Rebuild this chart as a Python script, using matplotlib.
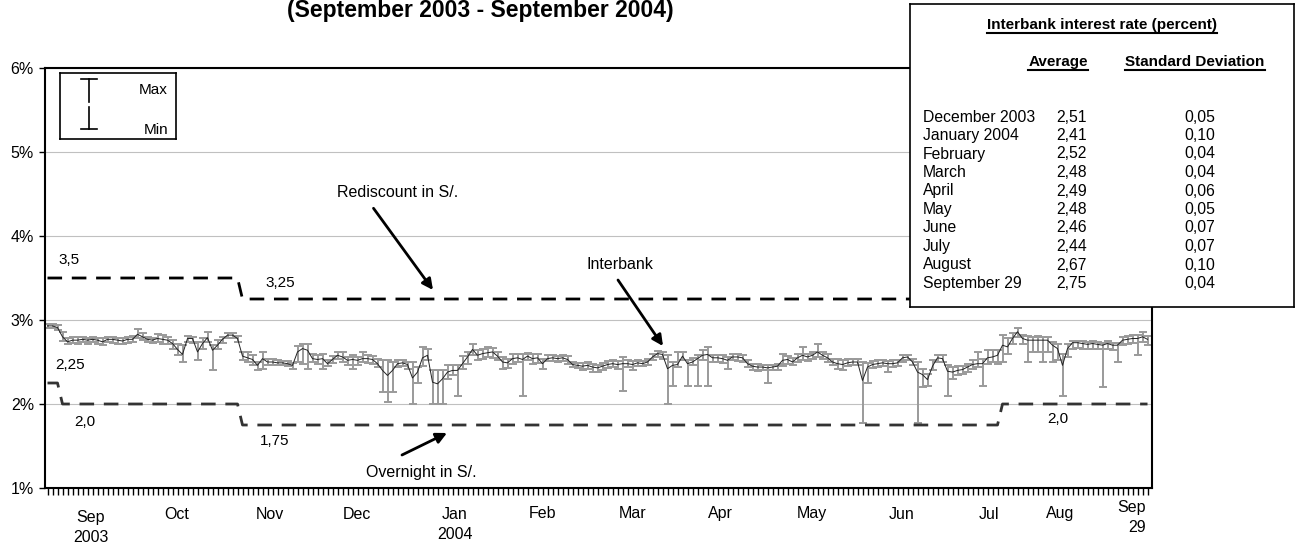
import numpy as np
import matplotlib.pyplot as plt

plt.rcParams['font.family'] = ['Liberation Sans', 'DejaVu Sans']
plt.rcParams['lines.scale_dashes'] = False

# interbank rate per trading day (percent): average, max and min
avg = [2.93, 2.93, 2.91, 2.80, 2.74, 2.76, 2.76, 2.77, 2.76, 2.77,
       2.76, 2.74, 2.77, 2.77, 2.76, 2.75, 2.77, 2.77, 2.83, 2.80,
       2.77, 2.76, 2.78, 2.77, 2.76, 2.72, 2.65, 2.59, 2.78, 2.78,
       2.62, 2.72, 2.79, 2.64, 2.70, 2.77, 2.82, 2.82, 2.78, 2.57,
       2.55, 2.53, 2.46, 2.54, 2.50, 2.50, 2.49, 2.49, 2.48, 2.46,
       2.62, 2.66, 2.64, 2.54, 2.53, 2.54, 2.48, 2.53, 2.58, 2.56,
       2.52, 2.53, 2.52, 2.54, 2.54, 2.53, 2.48, 2.40, 2.34, 2.40,
       2.48, 2.49, 2.47, 2.31, 2.38, 2.55, 2.58, 2.26, 2.24, 2.30,
       2.38, 2.40, 2.40, 2.48, 2.56, 2.65, 2.58, 2.60, 2.61, 2.62,
       2.57, 2.50, 2.49, 2.54, 2.55, 2.53, 2.57, 2.54, 2.55, 2.48,
       2.54, 2.55, 2.54, 2.55, 2.53, 2.47, 2.46, 2.45, 2.46, 2.44,
       2.43, 2.45, 2.47, 2.48, 2.47, 2.48, 2.48, 2.47, 2.49, 2.48,
       2.50, 2.56, 2.60, 2.59, 2.42, 2.46, 2.47, 2.57, 2.48, 2.50,
       2.54, 2.58, 2.59, 2.55, 2.55, 2.54, 2.52, 2.56, 2.56, 2.55,
       2.48, 2.45, 2.44, 2.44, 2.43, 2.44, 2.45, 2.52, 2.53, 2.50,
       2.55, 2.58, 2.56, 2.58, 2.62, 2.58, 2.55, 2.50, 2.48, 2.47,
       2.49, 2.50, 2.50, 2.28, 2.44, 2.47, 2.48, 2.49, 2.48, 2.48,
       2.49, 2.55, 2.56, 2.50, 2.38, 2.35, 2.29, 2.45, 2.55, 2.54,
       2.39, 2.38, 2.40, 2.41, 2.44, 2.47, 2.48, 2.48, 2.55, 2.56,
       2.58, 2.70, 2.68, 2.78, 2.86, 2.78, 2.76, 2.76, 2.76, 2.76,
       2.76, 2.70, 2.66, 2.46, 2.66, 2.73, 2.73, 2.72, 2.71, 2.72,
       2.71, 2.70, 2.72, 2.70, 2.70, 2.76, 2.77, 2.78, 2.78, 2.80, 2.77]
hi = [2.95, 2.95, 2.94, 2.86, 2.79, 2.80, 2.80, 2.80, 2.79, 2.80,
      2.79, 2.78, 2.80, 2.80, 2.79, 2.79, 2.80, 2.81, 2.89, 2.84,
      2.80, 2.79, 2.83, 2.82, 2.80, 2.76, 2.72, 2.70, 2.81, 2.80,
      2.74, 2.78, 2.86, 2.70, 2.76, 2.80, 2.85, 2.84, 2.81, 2.62,
      2.62, 2.58, 2.50, 2.62, 2.54, 2.54, 2.52, 2.51, 2.51, 2.49,
      2.69, 2.71, 2.71, 2.60, 2.58, 2.60, 2.52, 2.57, 2.62, 2.62,
      2.56, 2.58, 2.56, 2.62, 2.58, 2.57, 2.54, 2.52, 2.52, 2.50,
      2.52, 2.52, 2.50, 2.50, 2.44, 2.68, 2.66, 2.40, 2.40, 2.40,
      2.46, 2.46, 2.46, 2.57, 2.62, 2.72, 2.64, 2.66, 2.68, 2.67,
      2.62, 2.56, 2.54, 2.60, 2.60, 2.60, 2.61, 2.60, 2.60, 2.54,
      2.58, 2.58, 2.57, 2.58, 2.57, 2.50, 2.49, 2.49, 2.50, 2.48,
      2.47, 2.49, 2.51, 2.52, 2.51, 2.56, 2.52, 2.51, 2.52, 2.51,
      2.54, 2.60, 2.63, 2.62, 2.58, 2.50, 2.62, 2.62, 2.52, 2.55,
      2.58, 2.64, 2.68, 2.58, 2.58, 2.58, 2.56, 2.60, 2.60, 2.58,
      2.52, 2.48, 2.48, 2.47, 2.46, 2.47, 2.48, 2.60, 2.57, 2.55,
      2.60, 2.68, 2.60, 2.62, 2.71, 2.62, 2.59, 2.54, 2.53, 2.52,
      2.54, 2.54, 2.53, 2.50, 2.49, 2.51, 2.52, 2.52, 2.51, 2.52,
      2.52, 2.58, 2.58, 2.54, 2.50, 2.42, 2.36, 2.52, 2.58, 2.58,
      2.46, 2.44, 2.45, 2.45, 2.48, 2.52, 2.62, 2.54, 2.64, 2.64,
      2.64, 2.82, 2.78, 2.84, 2.91, 2.82, 2.81, 2.80, 2.81, 2.80,
      2.80, 2.74, 2.72, 2.60, 2.72, 2.75, 2.75, 2.75, 2.74, 2.75,
      2.74, 2.73, 2.75, 2.73, 2.73, 2.80, 2.81, 2.82, 2.82, 2.86, 2.81]
lo = [2.91, 2.91, 2.88, 2.75, 2.71, 2.73, 2.72, 2.74, 2.72, 2.74,
      2.72, 2.70, 2.74, 2.73, 2.71, 2.72, 2.73, 2.74, 2.79, 2.76,
      2.74, 2.73, 2.74, 2.71, 2.71, 2.66, 2.58, 2.50, 2.74, 2.73,
      2.52, 2.66, 2.74, 2.40, 2.66, 2.73, 2.78, 2.79, 2.74, 2.52,
      2.50, 2.47, 2.41, 2.42, 2.47, 2.47, 2.46, 2.46, 2.45, 2.42,
      2.50, 2.48, 2.42, 2.50, 2.48, 2.42, 2.45, 2.49, 2.54, 2.50,
      2.46, 2.42, 2.47, 2.50, 2.49, 2.48, 2.44, 2.14, 2.02, 2.14,
      2.44, 2.45, 2.42, 2.00, 2.25, 2.45, 2.52, 2.00, 2.00, 2.00,
      2.30, 2.34, 2.10, 2.42, 2.48, 2.58, 2.52, 2.54, 2.56, 2.55,
      2.52, 2.42, 2.43, 2.48, 2.50, 2.10, 2.52, 2.48, 2.49, 2.42,
      2.51, 2.51, 2.50, 2.51, 2.48, 2.44, 2.43, 2.40, 2.42, 2.38,
      2.38, 2.40, 2.43, 2.44, 2.42, 2.15, 2.44, 2.41, 2.45, 2.45,
      2.47, 2.52, 2.56, 2.54, 2.00, 2.22, 2.44, 2.52, 2.22, 2.46,
      2.22, 2.52, 2.22, 2.50, 2.50, 2.49, 2.42, 2.52, 2.51, 2.50,
      2.44, 2.40, 2.39, 2.40, 2.25, 2.40, 2.41, 2.45, 2.48, 2.46,
      2.50, 2.52, 2.51, 2.53, 2.56, 2.54, 2.50, 2.46, 2.42, 2.40,
      2.45, 2.46, 2.46, 1.77, 2.25, 2.43, 2.44, 2.45, 2.38, 2.44,
      2.45, 2.50, 2.52, 2.46, 1.77, 2.20, 2.22, 2.40, 2.50, 2.50,
      2.10, 2.30, 2.34, 2.36, 2.38, 2.42, 2.44, 2.22, 2.48, 2.50,
      2.48, 2.50, 2.60, 2.72, 2.80, 2.72, 2.50, 2.62, 2.62, 2.50,
      2.62, 2.50, 2.52, 2.10, 2.56, 2.66, 2.67, 2.66, 2.65, 2.66,
      2.65, 2.20, 2.66, 2.64, 2.50, 2.70, 2.72, 2.73, 2.58, 2.74, 2.70]

# reference rates: level and number of trading days it holds
rediscount_levels = [3.5, 3.25]
rediscount_days = [39, 182]
overnight_levels = [2.25, 2.0, 1.75, 2.0]
overnight_days = [3, 36, 152, 30]

month_labels = ['Sep\n2003', 'Oct', 'Nov', 'Dec', 'Jan\n2004', 'Feb', 'Mar',
                'Apr', 'May', 'Jun', 'Jul', 'Aug', 'Sep\n29']
month_idx = [8.7, 25.9, 44.5, 61.9, 81.5, 98.9, 117.1, 134.5, 152.9,
             170.9, 188.3, 202.5, 216.9]
month_y = [-0.094, -0.062, -0.062, -0.062, -0.087, -0.06, -0.06, -0.06,
           -0.06, -0.062, -0.062, -0.06, -0.071]

tab_months = ['December 2003', 'January 2004', 'February', 'March', 'April',
              'May', 'June', 'July', 'August', 'September 29']
tab_avg = ['2,51', '2,41', '2,52', '2,48', '2,49', '2,48', '2,46', '2,44',
           '2,67', '2,75']
tab_std = ['0,05', '0,10', '0,04', '0,04', '0,06', '0,05', '0,07', '0,07',
           '0,10', '0,04']

avg = np.array(avg)
hi = np.array(hi)
lo = np.array(lo)
x = np.arange(len(avg))
rediscount = np.repeat(rediscount_levels, rediscount_days)
overnight = np.repeat(overnight_levels, overnight_days)

W, H = 1300, 547
fig = plt.figure(figsize=(W / 100, H / 100), dpi=100)
ax = fig.add_axes([45 / W, (H - 488) / H, 1107 / W, 420 / H])

ax.yaxis.grid(True, color='#c0c0c0', lw=0.8)
ax.set_axisbelow(True)

ax.errorbar(x, avg, yerr=[avg - lo, hi - avg], fmt='none', ecolor='#9a9a9a',
            elinewidth=1.4, capsize=3, capthick=1.4, zorder=2)
ax.plot(x, avg, color='#222222', lw=0.7, zorder=3)
ax.plot(x, rediscount, color='black', lw=2, dashes=(10.5, 7), zorder=4)
ax.plot(x, overnight, color='#333333', lw=2, dashes=(10.5, 7), zorder=4)

ax.set_xlim(-0.5, -0.5 + 1107 / 5)
ax.set_ylim(1, 6)
ax.set_yticks([1, 2, 3, 4, 5, 6])
ax.set_yticklabels(['1%', '2%', '3%', '4%', '5%', '6%'])
ax.set_xticks(x)
ax.set_xticklabels([])
ax.tick_params(axis='x', length=5, width=1.0, direction='out')
ax.tick_params(axis='y', length=4, width=1, pad=4, labelsize=11.5)
for s in ax.spines.values():
    s.set_linewidth(1.5)

for lab, xi, yy in zip(month_labels, month_idx, month_y):
    ax.text(xi, yy, lab, transform=ax.get_xaxis_transform(), ha='center',
            va='center', fontsize=11.5, linespacing=1.4,
            multialignment='right' if lab.endswith('29') else 'center')

# rate labels
ax.text(2.1, 3.714, '3,5', fontsize=11, va='center')
ax.text(43.5, 3.44, '3,25', fontsize=11, va='center')
ax.text(1.5, 2.464, '2,25', fontsize=11, va='center')
ax.text(5.3, 1.786, '2,0', fontsize=11, va='center')
ax.text(42.5, 1.56, '1,75', fontsize=11, va='center')
ax.text(199.9, 1.82, '2,0', fontsize=11, va='center')

arrow = dict(arrowstyle='-|>', color='black', lw=2, mutation_scale=16,
             shrinkA=0, shrinkB=0)
ax.text(70.1, 4.52, 'Rediscount in S/.', fontsize=11.5, ha='center', va='center')
ax.annotate('', xy=(77.1, 3.357), xytext=(65.2, 4.33), arrowprops=arrow)
ax.text(114.5, 3.655, 'Interbank', fontsize=11.5, ha='center', va='center')
ax.annotate('', xy=(123.1, 2.69), xytext=(114.1, 3.476), arrowprops=arrow)
ax.text(74.7, 1.19, 'Overnight in S/.', fontsize=11.5, ha='center', va='center')
ax.annotate('', xy=(79.9, 1.655), xytext=(70.9, 1.393), arrowprops=arrow)

fig.text(480 / W, 1 - 17 / H, '(September 2003 - September 2004)',
         ha='center', va='baseline', fontsize=16.5, fontweight='bold')

# Max / Min key
leg = fig.add_axes([60 / W, (H - 139) / H, 116 / W, 66 / H])
leg.set_xlim(0, 116)
leg.set_ylim(66, 0)
leg.set_xticks([])
leg.set_yticks([])
for s in leg.spines.values():
    s.set_linewidth(1.2)
leg.plot([29, 29], [6, 29], color='black', lw=1.2)
leg.plot([29, 29], [34, 56], color='black', lw=1.2)
leg.plot([21, 37], [6, 6], color='black', lw=1.2)
leg.plot([21, 37], [56, 56], color='black', lw=1.2)
leg.text(108, 17, 'Max', ha='right', va='center', fontsize=11)
leg.text(108, 57, 'Min', ha='right', va='center', fontsize=11)

# statistics table
tab = fig.add_axes([910 / W, (H - 307) / H, 384 / W, 303 / H])
tab.set_xlim(0, 384)
tab.set_ylim(303, 0)
tab.set_xticks([])
tab.set_yticks([])
for s in tab.spines.values():
    s.set_linewidth(1.2)
heads = [tab.text(192, 21, 'Interbank interest rate (percent)', ha='center',
                  va='center', fontsize=11, fontweight='bold'),
         tab.text(148, 58, 'Average', ha='center', va='center', fontsize=11,
                  fontweight='bold'),
         tab.text(285, 58, 'Standard Deviation', ha='center', va='center',
                  fontsize=11, fontweight='bold')]
for k, (m, a, sd) in enumerate(zip(tab_months, tab_avg, tab_std)):
    yy = 113 + 18.5 * k
    tab.text(13, yy, m, va='center', fontsize=11.3)
    tab.text(146, yy, a, va='center', fontsize=11.3)
    tab.text(274, yy, sd, va='center', fontsize=11.3)

fig.canvas.draw()
inv = tab.transData.inverted()
for t in heads:
    bb = t.get_window_extent()
    (x0, y0), (x1, y1) = inv.transform([(bb.x0, bb.y0), (bb.x1, bb.y0)])
    tab.plot([x0, x1], [y0 + 1, y1 + 1], color='black', lw=1.5)

fig.savefig('out.png', dpi=100)
